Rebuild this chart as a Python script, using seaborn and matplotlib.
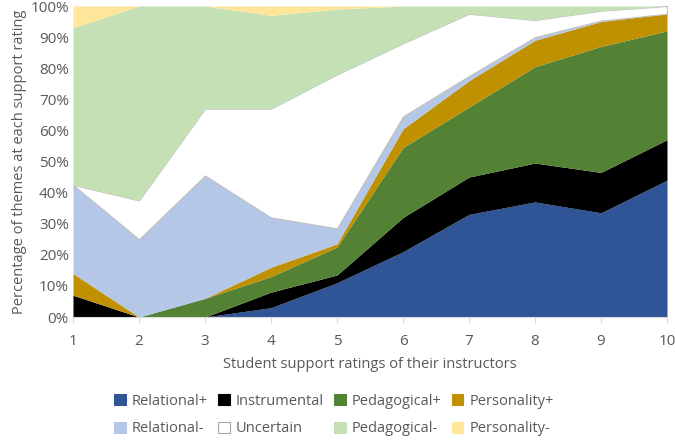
import numpy as np
import matplotlib
matplotlib.use("Agg")
from matplotlib import pyplot as plt
from matplotlib.patches import Patch
from matplotlib.ticker import PercentFormatter
import seaborn as sns

sns.set_style("white")
plt.rcParams['font.family'] = ['Open Sans', 'DejaVu Sans']

ratings = [1, 2, 3, 4, 5, 6, 7, 8, 9, 10]
series_names = ["Relational+", "Instrumental", "Pedagogical+", "Personality+",
                "Relational-", "Uncertain", "Pedagogical-", "Personality-"]
relational_pos = [0, 0, 0, 3, 11, 21, 33, 37, 33.5, 44]
instrumental = [7, 0, 0, 5, 2.5, 11, 12, 12.5, 13, 13]
pedagogical_pos = [0, 0, 6, 5, 9, 22.5, 22.5, 31, 40.5, 35]
personality_pos = [7, 0, 0, 3, 1, 6, 8.5, 8.5, 8, 5.5]
relational_neg = [28.5, 25, 39.5, 16, 5, 4, 1.5, 1, 0.3, 0]
uncertain = [0, 12.5, 21.5, 35, 49.5, 23.5, 20, 5.5, 3.2, 2.5]
pedagogical_neg = [50.5, 62.5, 33, 30, 21, 12, 2.5, 4.5, 1.5, 0]
personality_neg = [7, 0, 0, 3, 1, 0, 0, 0, 0, 0]

colors = ["#2F5597", "#000000", "#548235", "#BF9000",
          "#B4C7E7", "#FFFFFF", "#C5E0B4", "#FFE699"]

values = np.array([relational_pos, instrumental, pedagogical_pos, personality_pos,
                   relational_neg, uncertain, pedagogical_neg, personality_neg], dtype=float)
values = values / values.sum(axis=0) * 100

fig = plt.figure(figsize=(6.75, 4.4), dpi=100)
ax = fig.add_axes([73 / 675, 1 - 317 / 440, 594 / 675, 311 / 440])

polys = ax.stackplot(ratings, values, colors=colors, linewidth=0)
polys[5].set_edgecolor("#BFBFBF")
polys[5].set_linewidth(0.8)

ax.set_xlim(1, 10)
ax.set_ylim(0, 100)
ax.set_xticks(ratings)
ax.set_yticks(np.arange(0, 101, 10))
ax.yaxis.set_major_formatter(PercentFormatter(decimals=0))
text_color = "#595959"
ax.tick_params(axis="both", labelsize=11, colors=text_color)
ax.tick_params(axis="x", length=4, color="#D9D9D9", direction="out", bottom=True, pad=8)
ax.tick_params(axis="y", length=0, pad=3)
for side in ["left", "right", "top"]:
    ax.spines[side].set_visible(False)
ax.spines["bottom"].set_color("#D9D9D9")
ax.set_xlabel("Student support ratings of their instructors", fontsize=10.5,
              color=text_color, labelpad=6)
ax.set_ylabel("Percentage of themes at each support rating", fontsize=10.5,
              color=text_color, labelpad=2)

handles = [Patch(facecolor=c, edgecolor=("#A6A6A6" if c == "#FFFFFF" else c), linewidth=0.8)
           for c in colors]
# legend fills column by column, so interleave to get two rows of four
order = [0, 4, 1, 5, 2, 6, 3, 7]
leg = fig.legend([handles[i] for i in order], [series_names[i] for i in order],
                 loc="center", ncol=4, frameon=False,
                 bbox_to_anchor=(334 / 675, 1 - 415 / 440), fontsize=10.5,
                 handlelength=0.8, handleheight=0.8, handletextpad=0.4,
                 columnspacing=0.7, labelspacing=0.85)
for t in leg.get_texts():
    t.set_color(text_color)

fig.savefig("out.png", dpi=100)
